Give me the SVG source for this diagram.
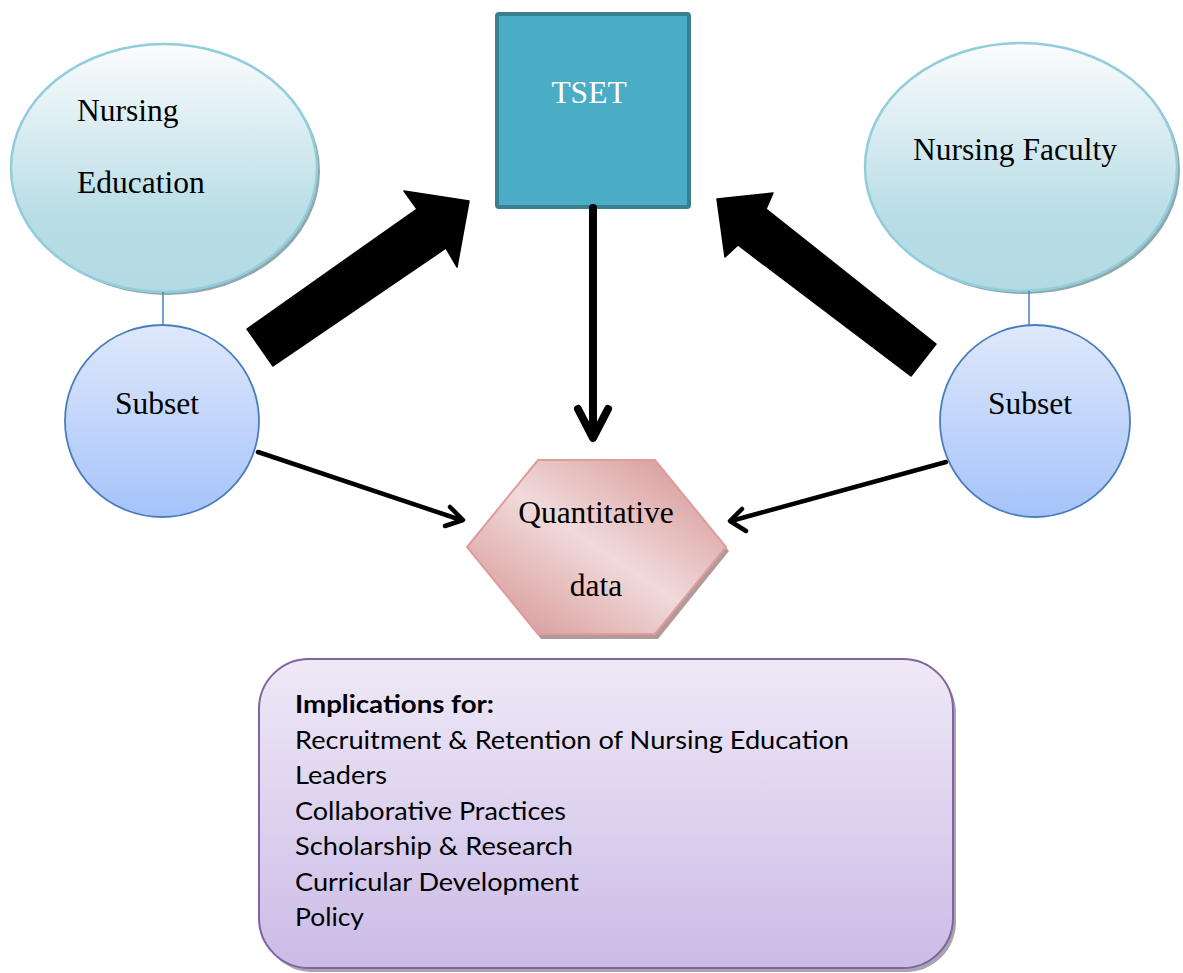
<svg xmlns="http://www.w3.org/2000/svg" width="1183" height="973" viewBox="0 0 1183 973">
  <defs>
    <linearGradient id="gOval" x1="0" y1="0" x2="0" y2="1">
      <stop offset="0" stop-color="#fbfcfd"/>
      <stop offset="0.7" stop-color="#b8dde6"/>
      <stop offset="1" stop-color="#b3dae4"/>
    </linearGradient>
    <linearGradient id="gSubset" x1="0" y1="0" x2="0" y2="1">
      <stop offset="0" stop-color="#dfe8fb"/>
      <stop offset="1" stop-color="#a5c3fa"/>
    </linearGradient>
    <linearGradient id="gHex" x1="1" y1="0" x2="0" y2="1">
      <stop offset="0" stop-color="#d48e8e"/>
      <stop offset="0.5" stop-color="#f1dada"/>
      <stop offset="1" stop-color="#d48e8e"/>
    </linearGradient>
    <linearGradient id="gBox" x1="0" y1="0" x2="0" y2="1">
      <stop offset="0" stop-color="#efe9f7"/>
      <stop offset="1" stop-color="#cbbbe6"/>
    </linearGradient>
  </defs>
  <style>
    .serif { font-family: "Liberation Serif", "Times New Roman", serif; font-size: 31.5px; fill: #000; }
    .oval { fill: url(#gOval); stroke: #92cddc; stroke-width: 2.5; }
    .ovalShadow { fill: #8fa8ae; }
    .subset { fill: url(#gSubset); stroke: #4a7ebb; stroke-width: 1.8; }
    .link { stroke: #4a7ebb; stroke-width: 1.5; fill: none; }
    .block { fill: #000; stroke: #000; stroke-width: 1.5; stroke-linejoin: round; }
    .thick { stroke: #000; stroke-width: 8; fill: none; stroke-linecap: round; stroke-linejoin: round; }
    .thin { stroke: #000; stroke-width: 4.5; fill: none; stroke-linecap: round; stroke-linejoin: round; }
    .list { font-family: Lato, "Liberation Sans", sans-serif; font-size: 25px; fill: #000; }
  </style>

  <rect width="1183" height="973" fill="#ffffff"/>

  <!-- Nursing Education -->
  <g id="nursing-education">
    <ellipse class="ovalShadow" cx="167" cy="171" rx="153" ry="124"/>
    <ellipse class="oval" cx="164" cy="168" rx="153" ry="124"/>
    <text class="serif" x="77" y="121">Nursing</text>
    <text class="serif" x="77" y="193">Education</text>
  </g>

  <!-- Nursing Faculty -->
  <g id="nursing-faculty">
    <ellipse class="ovalShadow" cx="1024" cy="170" rx="156" ry="124"/>
    <ellipse class="oval" cx="1021" cy="167" rx="156" ry="124"/>
    <text class="serif" x="1015" y="160" text-anchor="middle">Nursing Faculty</text>
  </g>

  <!-- TSET -->
  <g id="tset">
    <rect x="497" y="14" width="192" height="193" rx="2" fill="#4bacc6" stroke="#3a7f90" stroke-width="4"/>
    <text class="serif" x="589" y="103" text-anchor="middle" style="fill:#ffffff">TSET</text>
  </g>

  <!-- connectors -->
  <g id="connectors">
    <line class="link" x1="163" y1="292" x2="163" y2="326"/>
    <line class="link" x1="1029" y1="291" x2="1029" y2="326"/>
    <polygon class="block" points="247,329 417,209 404,191 469,201 457,267 446,248 273,366"/>
    <polygon class="block" points="717,199 773,193 766,209 936,344 911,376 738,245 725,257"/>
    <line class="thick" x1="593" y1="208" x2="593" y2="436"/>
    <path class="thick" d="M578,409 L593,438 L608,409"/>
    <line class="thin" x1="258" y1="452" x2="461" y2="520"/>
    <path class="thin" d="M450,507 L463,520 L445,526"/>
    <line class="thin" x1="946" y1="462" x2="731" y2="521"/>
    <path class="thin" d="M742,509 L730,521 L746,531"/>
  </g>

  <!-- Subset (education) -->
  <g id="subset-left">
    <ellipse class="subset" cx="162" cy="421" rx="97" ry="96"/>
    <text class="serif" x="157" y="414" text-anchor="middle">Subset</text>
  </g>

  <!-- Subset (faculty) -->
  <g id="subset-right">
    <ellipse class="subset" cx="1035" cy="421" rx="95" ry="96"/>
    <text class="serif" x="1030" y="414" text-anchor="middle">Subset</text>
  </g>

  <!-- Quantitative data -->
  <g id="quantitative-data">
    <polygon points="541,464 658,464 729,551 658,639 541,639 470,551" fill="#b39a9a"/>
    <polygon points="538,460 655,460 726,547 655,634 538,634 467,547" fill="url(#gHex)" stroke="#dc9d9c" stroke-width="2"/>
    <text class="serif" x="596" y="523" text-anchor="middle">Quantitative</text>
    <text class="serif" x="596" y="596" text-anchor="middle">data</text>
  </g>

  <!-- Implications -->
  <g id="implications">
    <rect x="262" y="663" width="694" height="309" rx="50" fill="#a9a4b0"/>
    <rect x="259" y="659" width="694" height="309" rx="50" fill="url(#gBox)" stroke="#8064a2" stroke-width="2"/>
    <text class="list" x="295" y="713" font-weight="bold" textLength="199" lengthAdjust="spacingAndGlyphs">Implications for:</text>
    <text class="list" x="295" y="749" textLength="554" lengthAdjust="spacingAndGlyphs">Recruitment &amp; Retention of Nursing Education</text>
    <text class="list" x="295" y="784" textLength="92" lengthAdjust="spacingAndGlyphs">Leaders</text>
    <text class="list" x="295" y="820" textLength="271" lengthAdjust="spacingAndGlyphs">Collaborative Practices</text>
    <text class="list" x="295" y="855" textLength="278" lengthAdjust="spacingAndGlyphs">Scholarship &amp; Research</text>
    <text class="list" x="295" y="891" textLength="284" lengthAdjust="spacingAndGlyphs">Curricular Development</text>
    <text class="list" x="295" y="926" textLength="69" lengthAdjust="spacingAndGlyphs">Policy</text>
  </g>
</svg>
